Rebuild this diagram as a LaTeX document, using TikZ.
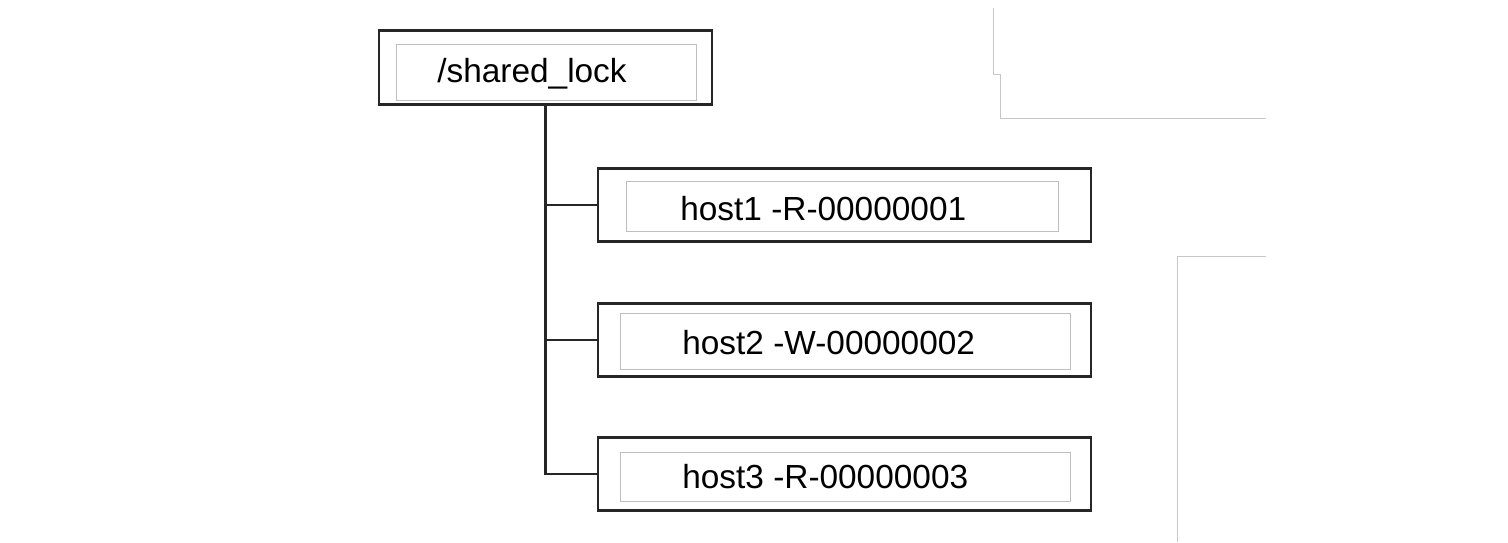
\documentclass[tikz,border=0pt]{standalone}
\usepackage{fontspec}
\setmainfont{Liberation Sans}
\usepackage{tikz}

\begin{document}
\begin{tikzpicture}[
    outerbox/.style={draw=black!85,line width=1.6pt,minimum width=#1,minimum height=1.47cm,inner sep=0pt},
    innerbox/.style={draw=black!25,line width=0.5pt,inner sep=0pt},
    boxtext/.style={anchor=base west,inner sep=0pt,font=\fontsize{19}{23}\selectfont},
    trunk/.style={draw=black!85,line width=1.3pt},
    edgeline/.style={draw=black!22,line width=0.5pt}
  ]
    \useasboundingbox (0,0) rectangle (30.16,10.84);
    % root
    \node[outerbox=6.66cm] (root) at (10.91,9.49) {};
    \node[innerbox,minimum width=6cm,minimum height=1.12cm] (rootin) at (10.92,9.40) {};
    \node[boxtext] (roottxt) at (8.74,9.20) {/shared\_lock};
    % children
    \node[outerbox=9.86cm] (h1) at (16.89,6.74) {};
    \node[innerbox,minimum width=8.64cm,minimum height=1cm] (h1in) at (16.84,6.72) {};
    \node[boxtext] (h1txt) at (13.60,6.44) {host1 -R-00000001};
    \node[outerbox=9.86cm] (h2) at (16.89,4.04) {};
    \node[innerbox,minimum width=9cm,minimum height=1.12cm] (h2in) at (16.90,4.02) {};
    \node[boxtext] (h2txt) at (13.64,3.76) {host2 -W-00000002};
    \node[outerbox=9.86cm] (h3) at (16.89,1.36) {};
    \node[innerbox,minimum width=9cm,minimum height=0.98cm] (h3in) at (16.90,1.31) {};
    \node[boxtext] (h3txt) at (13.64,1.08) {host3 -R-00000003};
    % tree lines
    \draw[trunk] (root.south) |- (h3.west);
    \draw[trunk] (root.south |- h1.west) -- (h1.west);
    \draw[trunk] (root.south |- h2.west) -- (h2.west);
    % faint page edges
    \draw[edgeline] (19.86,10.68) -- (19.86,9.36) -- (20.0,9.36) -- (20.0,8.48) -- (25.32,8.48);
    \draw[edgeline] (25.32,5.72) -- (23.54,5.72) -- (23.54,0);
  \end{tikzpicture}
\end{document}
